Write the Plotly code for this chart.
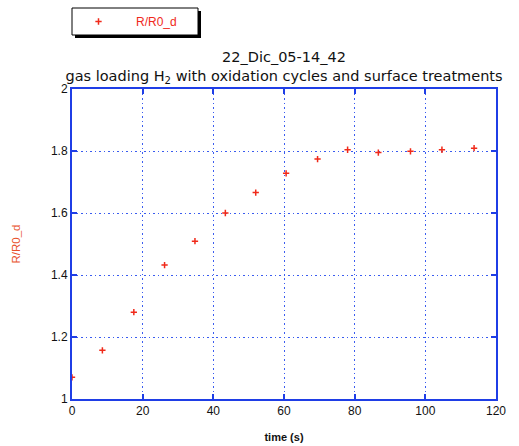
import plotly.graph_objects as go

# Measured resistance ratio during hydrogen gas loading
time_s = [0, 8.6, 17.5, 26.2, 34.8, 43.4, 52.0, 60.6, 69.5, 78.0, 86.7, 95.8, 104.7, 113.8]
r_over_r0 = [1.070, 1.157, 1.280, 1.432, 1.509, 1.600, 1.666, 1.728, 1.774, 1.804, 1.795, 1.799, 1.804, 1.809]

x_ticks = [0, 20, 40, 60, 80, 100, 120]
y_ticks = [1, 1.2, 1.4, 1.6, 1.8, 2]
y_tick_text = ["1", "1.2", "1.4", "1.6", "1.8", "2"]

AXIS_BLUE = "#1f3ee6"
GRID_BLUE = "#3a5cf0"
MARK_RED = "#f02a1a"
FONT = "Liberation Sans, Arial, sans-serif"
TITLE_FONT = "DejaVu Sans, sans-serif"

fig = go.Figure()
fig.add_trace(go.Scatter(
    x=time_s, y=r_over_r0, mode="markers", name="R/R0_d",
    marker=dict(symbol="cross-thin", size=4.5, color=MARK_RED,
                line=dict(color=MARK_RED, width=1.5)),
))

axis_common = dict(
    showline=True, linecolor=AXIS_BLUE, linewidth=2, mirror="ticks",
    ticks="inside", ticklen=5, tickcolor=AXIS_BLUE, tickwidth=2,
    showgrid=True, gridcolor=GRID_BLUE, gridwidth=1.2, griddash="1.5px,3px",
    zeroline=False, automargin=False,
    tickfont=dict(family=FONT, size=12, color="#111111"),
)

fig.update_xaxes(range=[0, 120], tickvals=x_ticks, **axis_common,
                 title=dict(text="<b>time (s)</b>", standoff=16,
                            font=dict(family=FONT, size=11, color="#111111")))
fig.update_yaxes(range=[1, 2], tickvals=y_ticks, ticktext=y_tick_text, **axis_common,
                 title=dict(text="R/R0_d", standoff=28,
                            font=dict(family=FONT, size=11.5, color="#e8502a")))

# legend frame with drop shadow
fig.add_shape(type="rect", xref="paper", yref="paper",
              x0=3 / 424, x1=129 / 424,
              y0=(399 - 38) / 310, y1=(399 - 11) / 310,
              fillcolor="black", line=dict(width=0), layer="below")
fig.add_shape(type="rect", xref="paper", yref="paper",
              x0=0.0, x1=126 / 424,
              y0=(399 - 35) / 310, y1=(399 - 8) / 310,
              fillcolor="white", line=dict(color="black", width=1), layer="below")

fig.update_layout(
    width=519, height=446,
    margin=dict(l=72, r=23, t=89, b=47, autoexpand=False),
    paper_bgcolor="white", plot_bgcolor="white",
    font=dict(family=FONT, size=11, color="#111111"),
    title=dict(
        text="22_Dic_05-14_42<br>gas loading H<sub>2</sub> with oxidation cycles and surface treatments",
        x=0.5, xref="paper", xanchor="center",
        y=1 - 62 / 446, yanchor="top",
        font=dict(family=TITLE_FONT, size=14.5, color="#111111"),
    ),
    showlegend=True,
    legend=dict(
        x=-11 / 424, y=(399 - 7) / 310, xanchor="left", yanchor="top",
        bgcolor="rgba(0,0,0,0)", borderwidth=0, itemwidth=65,
        font=dict(family=FONT, size=12, color=MARK_RED),
    ),
)

fig.write_html("out.html")
